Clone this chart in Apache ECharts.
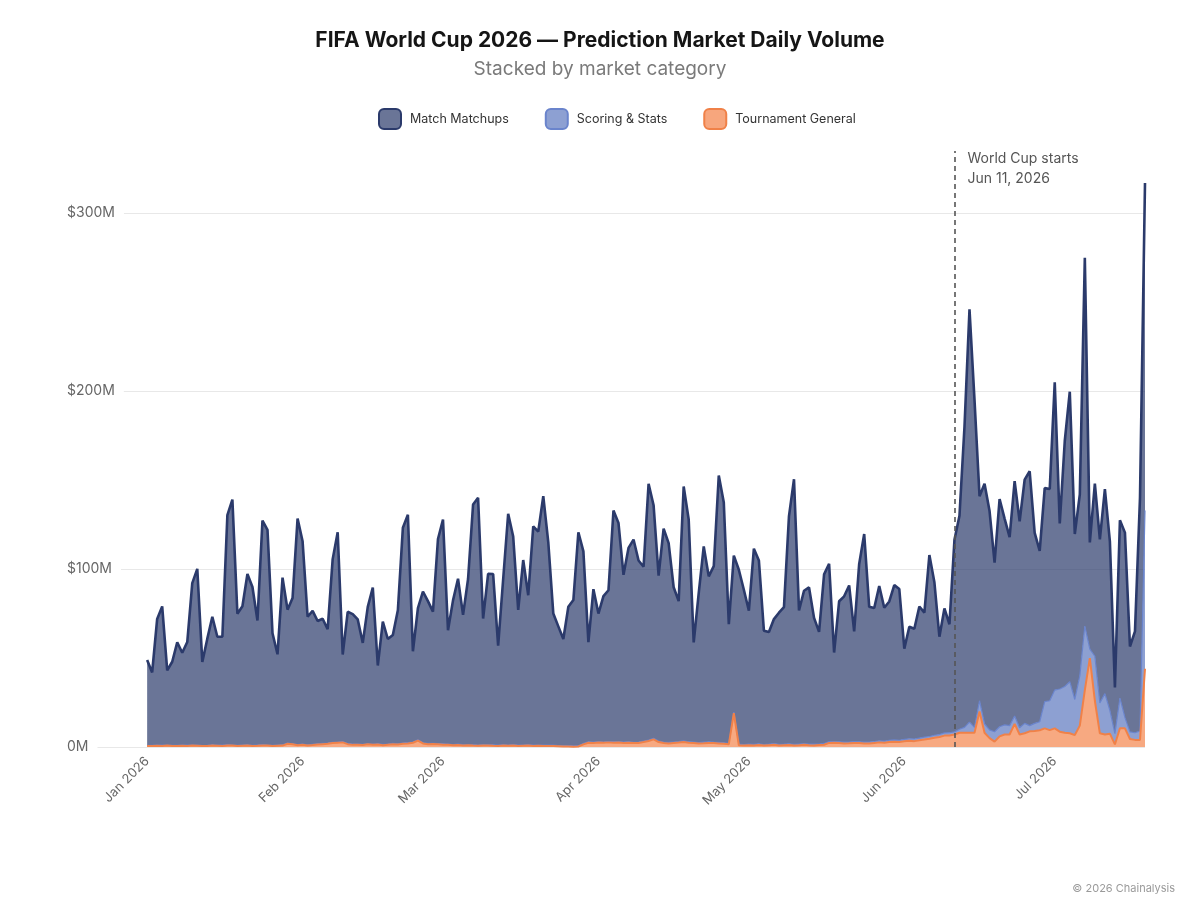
<!DOCTYPE html>
<html lang="en" style="height: 100%">
<head>
  <meta charset="utf-8">
</head>
<body style="height: 100%; margin: 0; background: #fff">
  <div id="container" style="width: 1200px; height: 920px"></div>

  <script src="https://cdn.jsdelivr.net/npm/echarts@6/dist/echarts.min.js"></script>

  <script type="text/javascript">
    // daily volume, $M, one value per day starting 2026-01-01
    var startDate = [2026, 0, 1];
    var worldCupStart = [2026, 5, 11];
    var monthNames = ['Jan', 'Feb', 'Mar', 'Apr', 'May', 'Jun', 'Jul', 'Aug', 'Sep', 'Oct', 'Nov', 'Dec'];
    var yTicks = [0, 100, 200, 300];

    var matchMatchups = [
      48, 41, 71, 78, 42, 47, 58, 52, 58, 91,
      99, 47, 60, 72, 61, 61, 129, 138, 74, 78,
      96, 89, 70, 126, 121, 63, 51, 94, 75, 82,
      127, 114, 72, 75, 69, 70, 64, 103, 118, 49,
      74, 73, 70, 57, 77, 88, 44, 69, 59, 61,
      75, 121, 128, 51, 74, 85, 80, 74, 115, 126,
      64, 81, 93, 73, 93, 135, 139, 71, 96, 96,
      56, 93, 130, 117, 76, 104, 84, 123, 120, 140,
      114, 74, 67, 60, 78, 82, 120, 108, 56, 86,
      72, 82, 85, 130, 123, 94, 109, 114, 102, 98,
      144, 131, 93, 120, 112, 87, 79, 143, 125, 56,
      84, 110, 93, 99, 150, 135, 67, 88, 98, 87,
      75, 110, 103, 64, 63, 70, 74, 77, 128, 149,
      75, 86, 88, 71, 63, 95, 100, 50, 79, 82,
      88, 62, 100, 117, 76, 75, 87, 75, 78, 87,
      85, 51, 63, 62, 74, 70, 102, 86, 55, 70,
      61, 108, 120, 169, 232, 184, 115, 135, 123, 95,
      128, 116, 106, 132, 116, 137, 143, 107, 96, 120,
      119, 173, 93, 138, 163, 93, 102, 207, 60, 97,
      92, 115, 95, 26, 100, 104, 48, 57, 131, 184
    ];

    var scoringStats = [
      0.3, 0.4, 0.3, 0.4, 0.3, 0.3, 0.4, 0.3, 0.4, 0.3,
      0.4, 0.3, 0.3, 0.4, 0.3, 0.4, 0.4, 0.3, 0.3, 0.4,
      0.4, 0.3, 0.4, 0.4, 0.3, 0.3, 0.4, 0.4, 0.4, 0.3,
      0.4, 0.4, 0.3, 0.4, 0.4, 0.5, 0.4, 0.4, 0.3, 0.4,
      0.4, 0.5, 0.4, 0.4, 0.3, 0.4, 0.4, 0.5, 0.4, 0.4,
      0.4, 0.4, 0.5, 0.4, 0.4, 0.4, 0.5, 0.4, 0.4, 0.5,
      0.4, 0.4, 0.5, 0.4, 0.4, 0.5, 0.4, 0.4, 0.4, 0.5,
      0.4, 0.5, 0.4, 0.4, 0.5, 0.4, 0.5, 0.4, 0.4, 0.5,
      0.4, 0.5, 0.4, 0.4, 0.5, 0.4, 0.4, 0.5, 0.5, 0.4,
      0.5, 0.4, 0.5, 0.5, 0.4, 0.5, 0.5, 0.4, 0.5, 0.5,
      0.5, 0.6, 0.5, 0.5, 0.6, 0.5, 0.5, 0.6, 0.5, 0.6,
      0.5, 0.6, 0.6, 0.5, 0.6, 0.6, 0.5, 0.6, 0.6, 0.6,
      0.6, 0.6, 0.7, 0.6, 0.6, 0.7, 0.6, 0.6, 0.7, 0.6,
      0.7, 0.6, 0.7, 0.7, 0.6, 0.7, 0.7, 0.7, 0.7, 0.7,
      0.7, 0.7, 0.7, 0.7, 0.8, 0.8, 0.9, 0.9, 1.0, 1.0,
      1.0, 1.1, 1.1, 1.2, 1.2, 1.3, 1.3, 1.4, 1.4, 1.5,
      1.5, 1.5, 2, 3, 6, 3, 6, 5, 4.6, 5.6,
      5.4, 5.4, 5, 4.4, 3.8, 5.6, 3.2, 4.3, 4.8, 15,
      16.5, 21.5, 24, 26, 29, 20, 28, 36, 5, 25,
      17, 23, 13, 6, 17, 6, 4, 4, 5, 89
    ];

    var tournamentGeneral = [
      0.6, 0.5, 0.7, 0.6, 0.8, 0.6, 0.5, 0.7, 0.6, 0.8,
      0.7, 0.5, 0.6, 0.8, 0.7, 0.6, 0.9, 0.8, 0.6, 0.7,
      0.8, 0.6, 0.7, 0.9, 0.8, 0.6, 0.7, 0.8, 1.8, 1.5,
      1.0, 1.2, 0.9, 1.1, 1.4, 1.6, 1.8, 2.2, 2.4, 2.6,
      1.6, 1.2, 1.3, 1.1, 1.5, 1.2, 1.4, 1.0, 1.3, 1.6,
      1.4, 1.8, 2.0, 2.4, 3.6, 2.0, 1.5, 1.7, 1.5, 1.3,
      1.2, 1.0, 1.1, 0.9, 1.0, 0.8, 0.7, 0.8, 0.9, 0.7,
      0.6, 0.8, 0.7, 0.9, 0.6, 0.7, 0.8, 0.6, 0.7, 0.5,
      0.6, 0.5, 0.4, 0.3, 0.3, 0.2, 0.3, 1.5, 2.4, 2.3,
      2.5, 2.4, 2.6, 2.4, 2.5, 2.3, 2.4, 2.2, 2.3, 2.8,
      3.4, 4.3, 2.8, 2.2, 2.0, 2.3, 2.5, 2.8, 2.4, 2.2,
      2.0, 2.1, 2.3, 2.2, 2.0, 1.8, 1.5, 19, 1.0, 0.8,
      1.0, 0.9, 1.1, 0.8, 1.0, 1.2, 0.9, 1.0, 1.1, 0.9,
      1.0, 1.2, 1.0, 0.9, 1.1, 1.3, 2.3, 2.4, 2.2, 2.0,
      2.1, 2.3, 2.2, 2.0, 2.0, 2.3, 2.6, 2.4, 2.8, 3.0,
      2.8, 3.2, 3.5, 3.3, 3.8, 4.2, 4.6, 5.2, 5.6, 6.4,
      6.5, 7, 8, 8, 8, 8, 20, 8, 5, 3,
      6, 7, 7, 13, 7, 7.7, 8.8, 9, 9.4, 10.5,
      9.5, 10.5, 8.6, 8, 7.7, 6.7, 12, 32, 50, 26,
      7.7, 7, 7.5, 1.5, 10.5, 10.5, 4.5, 4, 4, 44
    ];

    function dayTs(i) {
      return new Date(startDate[0], startDate[1], startDate[2] + i).getTime();
    }
    function pairs(values) {
      return values.map(function (v, i) { return [dayTs(i), v]; });
    }

    var cupTs = new Date(worldCupStart[0], worldCupStart[1], worldCupStart[2]).getTime();
    var DAY = 86400000;

    var dom = document.getElementById('container');
    var myChart = echarts.init(dom, null, { renderer: 'canvas' });
    var font = 'Inter, "Noto Sans", sans-serif';

    var option = {
      animation: false,
      backgroundColor: '#fff',
      textStyle: { fontFamily: font },
      title: [
        {
          text: 'FIFA World Cup 2026 — Prediction Market Daily Volume',
          subtext: 'Stacked by market category',
          left: 'center',
          top: 25,
          itemGap: 9,
          textStyle: { fontSize: 21, fontWeight: 'bold', color: '#151515', fontFamily: font },
          subtextStyle: { fontSize: 19, color: '#7a7a7a', fontFamily: font }
        },
        {
          text: '© 2026 Chainalysis',
          right: 20,
          bottom: 21,
          textStyle: { fontSize: 11, fontWeight: 'normal', color: '#9a9a9a', fontFamily: font }
        }
      ],
      legend: {
        top: 103,
        left: 373,
        icon: 'roundRect',
        itemWidth: 22,
        itemHeight: 20,
        itemGap: 36,
        textStyle: { fontSize: 12.5, color: '#333', fontFamily: font, padding: [0, 0, 0, 4] },
        data: [
          { name: 'Match Matchups', itemStyle: { color: 'rgba(43,58,107,0.7)', borderColor: '#2b3a6b', borderWidth: 2 } },
          { name: 'Scoring & Stats', itemStyle: { color: 'rgba(92,119,191,0.7)', borderColor: '#6a84cc', borderWidth: 2 } },
          { name: 'Tournament General', itemStyle: { color: 'rgba(243,128,70,0.7)', borderColor: '#f08148', borderWidth: 2 } }
        ]
      },
      grid: { left: 97, right: 55, top: 151, bottom: 173 },
      xAxis: {
        type: 'time',
        min: dayTs(-10),
        max: dayTs(matchMatchups.length - 1),
        minInterval: 28 * DAY,
        maxInterval: 31 * DAY,
        axisLine: { show: false },
        axisTick: { show: false },
        splitLine: { show: false },
        axisLabel: {
          rotate: 45,
          margin: 12,
          fontSize: 13,
          color: '#666',
          showMinLabel: false,
          showMaxLabel: false,
          formatter: function (val) {
            var d = new Date(val);
            return monthNames[d.getMonth()] + ' ' + d.getFullYear();
          }
        }
      },
      yAxis: {
        type: 'value',
        min: yTicks[0],
        max: 335,
        interval: yTicks[1] - yTicks[0],
        axisLine: { show: false },
        axisTick: { show: false },
        splitLine: { showMaxLine: false, lineStyle: { color: '#e8e8e8', width: 1 } },
        axisLabel: {
          showMaxLabel: false,
          fontSize: 14,
          color: '#666',
          align: 'left',
          margin: 30,
          backgroundColor: '#fff',
          padding: [2, 9, 2, 0],
          formatter: function (v) {
            return v === 0 ? '0M' : '$' + v + 'M';
          }
        }
      },
      series: [
        {
          name: 'Tournament General',
          type: 'line',
          stack: 'volume',
          z: 4,
          symbol: 'none',
          data: pairs(tournamentGeneral),
          lineStyle: { color: '#f08148', width: 2 },
          itemStyle: { color: '#f08148' },
          areaStyle: { color: '#f38046', opacity: 0.68 }
        },
        {
          name: 'Scoring & Stats',
          type: 'line',
          stack: 'volume',
          z: 3,
          symbol: 'none',
          data: pairs(scoringStats),
          lineStyle: { color: '#6a84cc', width: 1.2 },
          itemStyle: { color: '#6a84cc' },
          areaStyle: { color: '#5c77bf', opacity: 0.7 }
        },
        {
          name: 'Match Matchups',
          type: 'line',
          stack: 'volume',
          z: 2,
          symbol: 'none',
          data: pairs(matchMatchups),
          lineStyle: { color: '#2b3a6b', width: 2.6 },
          itemStyle: { color: '#2b3a6b' },
          areaStyle: { color: '#2b3a6b', opacity: 0.7 },
          markLine: {
            silent: true,
            symbol: 'none',
            z: 6,
            label: { show: false },
            lineStyle: { color: '#555', type: [5, 4], width: 1.6 },
            data: [{ xAxis: cupTs }]
          },
          markPoint: {
            silent: true,
            symbol: 'circle',
            symbolSize: 0,
            data: [{ coord: [cupTs, 335] }],
            label: {
              show: true,
              position: [13, -2],
              formatter: 'World Cup starts\nJun 11, 2026',
              fontSize: 14,
              lineHeight: 20,
              color: '#555',
              fontFamily: font
            }
          }
        }
      ]
    };

    myChart.setOption(option);
    window.addEventListener('resize', myChart.resize);
  </script>
</body>
</html>
